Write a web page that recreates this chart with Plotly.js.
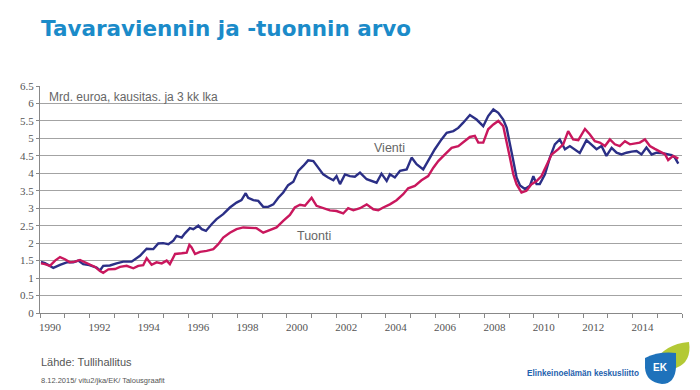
<!DOCTYPE html>
<html>
<head>
<meta charset="utf-8">
<script src="https://cdn.plot.ly/plotly-3.0.1.min.js"></script>
<style>html,body{margin:0;padding:0;background:#fff;}#chart{width:700px;height:390px;}</style>
</head>
<body>
<div id="chart"></div>
<script>
// ---- Data ----
const vientiYears = [1990.04,1990.20,1990.40,1990.54,1990.81,1991.08,1991.35,1991.55,1991.75,1992.00,1992.29,1992.43,1992.56,1992.83,1993.10,1993.37,1993.71,1993.85,1994.05,1994.32,1994.59,1994.79,1994.99,1995.20,1995.40,1995.53,1995.74,1995.87,1996.07,1996.21,1996.41,1996.55,1996.72,1996.95,1997.15,1997.42,1997.69,1997.96,1998.16,1998.33,1998.43,1998.64,1998.84,1999.04,1999.24,1999.45,1999.65,1999.85,2000.05,2000.26,2000.46,2000.66,2000.86,2001.07,2001.27,2001.47,2001.67,2001.88,2002.01,2002.15,2002.35,2002.55,2002.75,2002.96,2003.23,2003.43,2003.63,2003.83,2004.04,2004.17,2004.37,2004.58,2004.85,2005.05,2005.25,2005.52,2005.72,2005.99,2006.26,2006.47,2006.74,2006.94,2007.14,2007.41,2007.68,2007.95,2008.15,2008.36,2008.56,2008.76,2008.90,2009.03,2009.17,2009.30,2009.44,2009.64,2009.84,2009.98,2010.11,2010.24,2010.45,2010.65,2010.85,2011.05,2011.26,2011.46,2011.66,2011.86,2012.13,2012.34,2012.54,2012.74,2012.94,2013.15,2013.35,2013.55,2013.75,2013.96,2014.16,2014.36,2014.56,2014.77,2014.97,2015.17,2015.37,2015.58,2015.71,2015.85];
const vientiValues = [1.46,1.43,1.35,1.29,1.38,1.45,1.45,1.50,1.40,1.37,1.30,1.22,1.35,1.36,1.42,1.47,1.47,1.54,1.64,1.84,1.83,1.99,2.00,1.97,2.07,2.21,2.16,2.28,2.43,2.40,2.50,2.40,2.35,2.54,2.69,2.83,3.02,3.16,3.23,3.43,3.30,3.23,3.21,3.04,3.04,3.11,3.30,3.45,3.66,3.76,4.07,4.21,4.37,4.35,4.16,3.97,3.88,3.80,3.92,3.69,3.97,3.92,3.90,4.02,3.83,3.78,3.73,3.99,3.78,3.97,3.88,4.07,4.11,4.45,4.26,4.11,4.35,4.69,4.97,5.16,5.21,5.30,5.45,5.67,5.54,5.35,5.64,5.83,5.73,5.54,5.30,4.88,4.35,3.88,3.65,3.55,3.64,3.92,3.69,3.69,3.97,4.45,4.83,4.97,4.69,4.78,4.69,4.58,4.95,4.83,4.69,4.78,4.50,4.73,4.59,4.54,4.59,4.62,4.64,4.54,4.74,4.54,4.59,4.58,4.55,4.52,4.45,4.28];

const tuontiYears = [1990.04,1990.20,1990.40,1990.61,1990.81,1991.01,1991.21,1991.42,1991.62,1991.82,1992.02,1992.23,1992.43,1992.56,1992.77,1993.04,1993.24,1993.51,1993.78,1993.98,1994.18,1994.32,1994.52,1994.72,1994.93,1995.13,1995.26,1995.47,1995.74,1995.94,1996.05,1996.14,1996.28,1996.48,1996.75,1997.02,1997.22,1997.42,1997.69,1997.96,1998.23,1998.50,1998.77,1999.04,1999.31,1999.58,1999.85,2000.12,2000.32,2000.53,2000.73,2001.00,2001.20,2001.47,2001.74,2002.01,2002.28,2002.48,2002.69,2002.96,2003.23,2003.50,2003.70,2003.90,2004.17,2004.44,2004.71,2004.91,2005.18,2005.45,2005.72,2005.93,2006.13,2006.40,2006.67,2006.94,2007.21,2007.41,2007.61,2007.75,2007.95,2008.15,2008.36,2008.56,2008.76,2008.90,2009.03,2009.17,2009.30,2009.50,2009.70,2009.91,2010.11,2010.31,2010.52,2010.72,2010.99,2011.19,2011.39,2011.59,2011.80,2012.07,2012.27,2012.47,2012.67,2012.88,2013.08,2013.28,2013.48,2013.69,2013.89,2014.09,2014.29,2014.50,2014.70,2014.90,2015.10,2015.31,2015.44,2015.64,2015.85];
const tuontiValues = [1.42,1.40,1.35,1.50,1.60,1.54,1.45,1.47,1.52,1.45,1.38,1.32,1.20,1.15,1.25,1.26,1.32,1.35,1.28,1.35,1.37,1.57,1.38,1.45,1.42,1.50,1.40,1.69,1.71,1.73,1.95,1.88,1.69,1.75,1.78,1.83,1.97,2.16,2.30,2.40,2.45,2.43,2.43,2.30,2.37,2.45,2.64,2.81,3.02,3.10,3.07,3.30,3.07,3.00,2.94,2.92,2.85,3.00,2.94,3.00,3.11,2.97,2.94,3.02,3.11,3.23,3.40,3.57,3.64,3.80,3.92,4.16,4.35,4.54,4.73,4.78,4.92,5.04,5.07,4.88,4.88,5.26,5.40,5.50,5.35,4.92,4.45,3.97,3.69,3.45,3.50,3.69,3.78,3.92,4.26,4.54,4.69,4.83,5.21,4.97,4.95,5.27,5.11,4.92,4.88,4.78,4.97,4.83,4.78,4.92,4.83,4.85,4.88,4.97,4.78,4.70,4.62,4.55,4.38,4.50,4.42];

const xTickYears = [1990,1991,1992,1993,1994,1995,1996,1997,1998,1999,2000,2001,2002,2003,2004,2005,2006,2007,2008,2009,2010,2011,2012,2013,2014,2015,2016];
const xTickLabels = ['1990','','1992','','1994','','1996','','1998','','2000','','2002','','2004','','2006','','2008','','2010','','2012','','2014','',''];
const yTickVals = [0,0.5,1,1.5,2,2.5,3,3.5,4,4.5,5,5.5,6,6.5];
const yTickLabels = ['0','0.5','1','1.5','2','2.5','3','3.5','4','4.5','5','5.5','6','6.5'];

const seriesNames = ['Vienti','Tuonti'];

// ---- Layout helpers (pixel -> paper) ----
const L = 40, R = 18, T = 86, B = 77, W = 700, H = 390;
const pw = W - L - R, ph = H - T - B;
function px(x){ return (x - L) / pw; }
function py(y){ return (H - B - y) / ph; }
function pt(x,y){ return px(x).toFixed(4) + ',' + py(y).toFixed(4); }

const leafPath = 'M' + pt(654,363) + ' Q' + pt(664,344) + ' ' + pt(689,342) +
                 ' Q' + pt(692,362) + ' ' + pt(676,368) + ' Q' + pt(663,371) + ' ' + pt(654,363) + ' Z';
const shieldPath = 'M' + pt(645,358) + ' Q' + pt(659,351) + ' ' + pt(676,353) +
                   ' L' + pt(676,367) + ' Q' + pt(675,384) + ' ' + pt(662,384) +
                   ' Q' + pt(646,382) + ' ' + pt(645,368) + ' Z';

const traces = [
  {x: vientiYears, y: vientiValues, name: seriesNames[0], type: 'scatter', mode: 'lines',
   line: {color: '#2b2f86', width: 2.4}, hoverinfo: 'skip'},
  {x: tuontiYears, y: tuontiValues, name: seriesNames[1], type: 'scatter', mode: 'lines',
   line: {color: '#c9175d', width: 2.4}, hoverinfo: 'skip'}
];

const grey = '#555555';
const layout = {
  width: W, height: H,
  margin: {l: L, r: R, t: T, b: B, pad: 0},
  paper_bgcolor: '#ffffff', plot_bgcolor: '#ffffff',
  showlegend: false,
  title: {
    text: 'Tavaraviennin ja -tuonnin arvo',
    x: 41/700, xanchor: 'left', xref: 'container',
    y: 1 - 28/390, yanchor: 'middle', yref: 'container',
    font: {family: 'DejaVu Sans', size: 21.5, color: '#1b8bc9', weight: 'bold'}
  },
  xaxis: {
    range: [1990, 2016],
    tickmode: 'array', tickvals: xTickYears, ticktext: xTickLabels,
    ticklabelshift: 10,
    ticks: 'outside', ticklen: 4, tickcolor: '#888', tickwidth: 1,
    showgrid: false, zeroline: false,
    showline: true, linecolor: '#888', linewidth: 1,
    tickfont: {family: 'Liberation Serif', size: 11, color: grey},
    fixedrange: true
  },
  yaxis: {
    range: [0, 6.5],
    tickmode: 'array', tickvals: yTickVals, ticktext: yTickLabels,
    ticks: 'outside', ticklen: 3, tickcolor: '#888', tickwidth: 1,
    showgrid: true, gridcolor: '#a3a3a3', gridwidth: 1,
    zeroline: false,
    showline: true, linecolor: '#888', linewidth: 1,
    tickfont: {family: 'Liberation Serif', size: 11, color: grey},
    fixedrange: true
  },
  annotations: [
    {text: 'Mrd. euroa, kausitas. ja 3 kk lka', xref: 'paper', yref: 'paper',
     x: px(47), y: py(97), xanchor: 'left', yanchor: 'middle', showarrow: false,
     font: {family: 'Liberation Sans', size: 12, color: '#666'}},
    {text: 'Vienti', xref: 'paper', yref: 'paper',
     x: px(372), y: py(148), xanchor: 'left', yanchor: 'middle', showarrow: false,
     font: {family: 'Liberation Sans', size: 12.5, color: '#666'}},
    {text: 'Tuonti', xref: 'paper', yref: 'paper',
     x: px(295), y: py(236), xanchor: 'left', yanchor: 'middle', showarrow: false,
     font: {family: 'Liberation Sans', size: 12.5, color: '#666'}},
    {text: 'Lähde: Tullihallitus', xref: 'paper', yref: 'paper',
     x: px(39), y: py(362), xanchor: 'left', yanchor: 'middle', showarrow: false,
     font: {family: 'Liberation Sans', size: 11, color: grey}},
    {text: '8.12.2015/ vitu2/jka/EK/ Talousgraafit', xref: 'paper', yref: 'paper',
     x: px(39), y: py(380), xanchor: 'left', yanchor: 'middle', showarrow: false,
     font: {family: 'Liberation Sans Narrow, Liberation Sans', size: 7.5, color: grey}},
    {text: '<b>Elinkeinoelämän keskusliitto</b>', xref: 'paper', yref: 'paper',
     x: px(641), y: py(373), xanchor: 'right', yanchor: 'middle', showarrow: false,
     font: {family: 'Liberation Sans', size: 8.2, color: '#1f62ad'}},
    {text: '<b>EK</b>', xref: 'paper', yref: 'paper',
     x: px(660), y: py(367), xanchor: 'center', yanchor: 'middle', showarrow: false,
     font: {family: 'Liberation Sans', size: 10, color: '#ffffff'}}
  ],
  shapes: [
    {type: 'path', xref: 'paper', yref: 'paper', path: leafPath,
     fillcolor: '#b3c935', line: {width: 0}, layer: 'above'},
    {type: 'path', xref: 'paper', yref: 'paper', path: shieldPath,
     fillcolor: '#1e72bb', line: {width: 0}, layer: 'above'}
  ]
};

Plotly.newPlot('chart', traces, layout, {displayModeBar: false, staticPlot: true});
</script>
</body>
</html>
